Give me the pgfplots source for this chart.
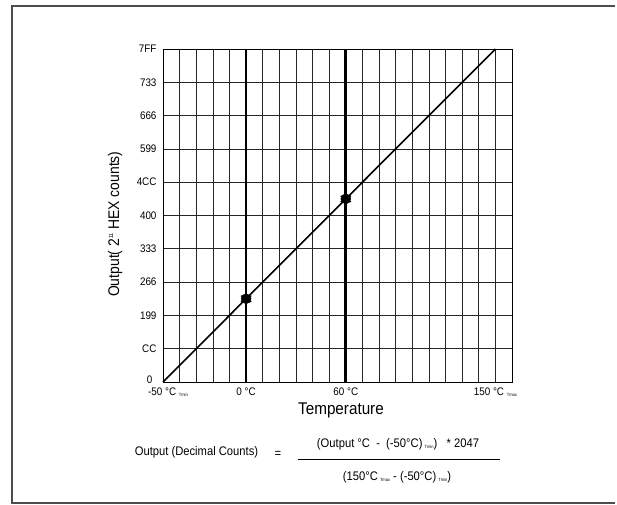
\documentclass[border=0pt]{standalone}
\usepackage{fontspec}
\setmainfont[FakeStretch=0.9]{Liberation Sans}
\usepackage{pgfplots}
\pgfplotsset{compat=1.18}
\newcommand{\sub}[1]{\raisebox{-1.5bp}{\fontsize{4.5}{5}\selectfont #1}}
\begin{document}
\begin{tikzpicture}
\useasboundingbox (0,0) rectangle (617bp,505bp);
\draw[black!70, line width=1.3bp] (615bp,499bp) -- (12bp,499bp) -- (12bp,2bp) -- (615bp,2bp);
\begin{axis}[
  at={(163bp,123bp)}, anchor=south west,
  scale only axis, width=349bp, height=333bp,
  xmin=-50, xmax=160, ymin=0, ymax=2047,
  xtick={-50,0,60,150},
  xticklabels={{\hspace*{10bp}-50 °C \sub{Tmin}},{0 °C},{60 °C},{150 °C \sub{Tmax}}},
  minor xtick={-40,-30,...,160},
  ytick={0,204.7,409.4,614.1,818.8,1023.5,1228.2,1432.9,1637.6,1842.3,2047},
  yticklabels={{\raisebox{5bp}{0}\hspace*{4bp}},CC,199,266,333,400,4CC,599,666,733,7FF},
  grid=both,
  major grid style={black!85, line width=0.6bp},
  minor grid style={black!85, line width=0.6bp},
  major tick length=0pt, minor tick length=0pt,
  axis line style={black, line width=0.8bp},
  tick label style={font=\fontsize{11}{12}\selectfont},
  yticklabel style={xshift=-3bp},
  xticklabel style={yshift=-2bp},
  xlabel={Temperature},
  xlabel style={at={(axis description cs:0.51,-0.084)}, anchor=center, font=\fontsize{17}{19}\selectfont},
  ylabel={Output( 2\raisebox{6bp}{\fontsize{6}{6}\selectfont 11} HEX counts)},
  ylabel style={at={(axis description cs:-0.1375,0.474)}, anchor=center, rotate=0, font=\fontsize{15.5}{17}\selectfont},
  clip=false,
]
\addplot[black, line width=2.8bp] coordinates {(0,0) (0,2047)};
\addplot[black, line width=2.8bp] coordinates {(60,0) (60,2047)};
\addplot[black, line width=1.6bp] coordinates {(-50,0) (150,2047)};
\addplot[only marks, mark=*, mark size=5bp, black] coordinates {(0,511.75) (60,1125.85)};
\addplot[only marks, mark=asterisk, mark size=6bp, line width=1.2bp, black] coordinates {(0,511.75) (60,1125.85)};
\end{axis}
\begin{scope}[font=\fontsize{12.5}{14}\selectfont]
\node at (196.5bp,53bp) {Output (Decimal Counts)};
\node at (278bp,51bp) {=};
\node at (398bp,61bp) {(Output °C~~-~~(-50°C)\,\sub{Tmin})~~~*~2047};
\draw[black, line width=0.7bp] (298bp,46bp) -- (500bp,46bp);
\node at (397bp,28bp) {(150°C\,\sub{Tmax}~-~(-50°C)\,\sub{Tmin})};
\end{scope}
\end{tikzpicture}
\end{document}
